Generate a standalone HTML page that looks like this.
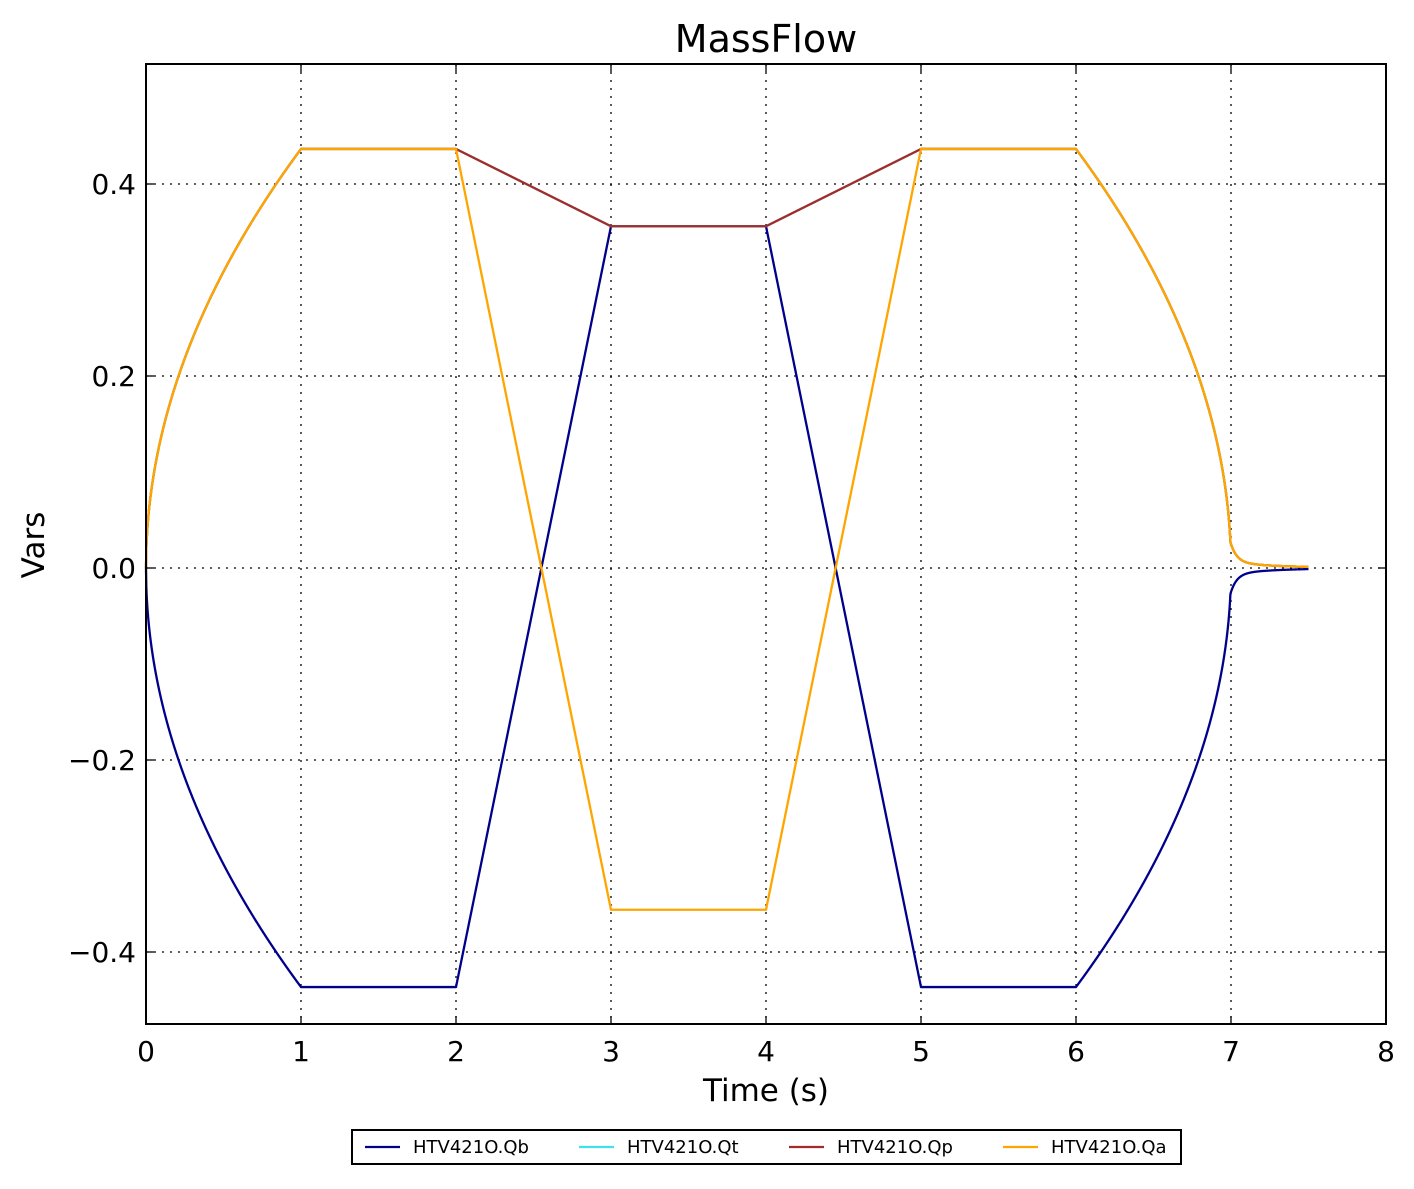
<!DOCTYPE html>
<html><head><meta charset="utf-8"><style>
body{margin:0;background:#fff;}
svg text{font-family:"DejaVu Sans","Liberation Sans",sans-serif;}
</style></head><body>
<svg id="s" width="1414" height="1184" xmlns="http://www.w3.org/2000/svg">
<rect width="1414" height="1184" fill="#fff"/>
<g id="grid" stroke="#000" stroke-width="1.3" stroke-dasharray="2,6"></g>
<g id="lines" fill="none" stroke-width="2.3" stroke-linejoin="round"></g>
<rect x="146" y="64" width="1240" height="960" fill="none" stroke="#000" stroke-width="2"/>
<g id="ticks" stroke="#000" stroke-width="1.3"></g>
<g id="labels" font-size="28" fill="#000"></g>
<text x="766" y="52" font-size="38" text-anchor="middle">MassFlow</text>
<text x="766" y="1101" font-size="31" text-anchor="middle">Time (s)</text>
<text transform="translate(44,545) rotate(-90)" font-size="31" text-anchor="middle">Vars</text>
<rect x="352" y="1130" width="829" height="34" fill="#fff" stroke="#000" stroke-width="2"/>
<g font-size="18">
<line x1="365" y1="1147" x2="400" y2="1147" stroke="#00008b" stroke-width="2.3"/><text x="413" y="1153">HTV421O.Qb</text>
<line x1="579" y1="1147" x2="614" y2="1147" stroke="#40e0f0" stroke-width="2.3"/><text x="627" y="1153">HTV421O.Qt</text>
<line x1="789" y1="1147" x2="824" y2="1147" stroke="#a52a2a" stroke-width="2.3"/><text x="837" y="1153">HTV421O.Qp</text>
<line x1="1003" y1="1147" x2="1038" y2="1147" stroke="#ffa500" stroke-width="2.3"/><text x="1051" y="1153">HTV421O.Qa</text>
</g>
</svg>
<script>
var X=t=>146+155*t, Y=v=>568-960*v;
var g=document.getElementById('grid'),tk=document.getElementById('ticks'),lb=document.getElementById('labels'),L=document.getElementById('lines');
var ns='http://www.w3.org/2000/svg';
function el(p,n,a,txt){var e=document.createElementNS(ns,n);for(var k in a)e.setAttribute(k,a[k]);if(txt!=null)e.textContent=txt;p.appendChild(e);return e;}
for(var i=0;i<=8;i++){var x=X(i);if(i>0&&i<8)el(g,'line',{x1:x,y1:64,x2:x,y2:1024});
el(tk,'line',{x1:x,y1:1024,x2:x,y2:1016});el(tk,'line',{x1:x,y1:64,x2:x,y2:72});
el(lb,'text',{x:x,y:1061,'text-anchor':'middle'},i);}
[-0.4,-0.2,0,0.2,0.4].forEach(v=>{var y=Y(v);el(g,'line',{x1:146,y1:y,x2:1386,y2:y});
el(tk,'line',{x1:146,y1:y,x2:154,y2:y});el(tk,'line',{x1:1386,y1:y,x2:1378,y2:y});
el(lb,'text',{x:136,y:y+10,'text-anchor':'end'},(v<0?'\u2212':'')+Math.abs(v).toFixed(1));});
var P=0.4365,M=0.356;
function base(t){if(t<=1)return P*Math.sqrt(t);if(t<=6)return P;if(t<=6.997)return Math.max(P*Math.sqrt(7-t),0.024);
return 0.019*Math.exp(-(t-7)/0.04)+0.006*Math.exp(-(t-7)/0.3);}
function lin(t,a,b,t0){return a+(b-a)*(t-t0);}
function qa(t){if(t>2&&t<3)return lin(t,P,-M,2);if(t>=3&&t<=4)return -M;if(t>4&&t<5)return lin(t,-M,P,4);return base(t);}
function qp(t){if(t>2&&t<3)return lin(t,P,M,2);if(t>=3&&t<=4)return M;if(t>4&&t<5)return lin(t,M,P,4);return base(t);}
function qb(t){if(t>2&&t<3)return lin(t,-P,M,2);if(t>=3&&t<=4)return M;if(t>4&&t<5)return lin(t,M,-P,4);return -base(t);}
var ts=[];for(var t=0;t<=7.5;t+=0.002)ts.push(+t.toFixed(4));[1,2,3,4,5,6].forEach(k=>ts.push(k));ts.sort((a,b)=>a-b);
function path(f,c){var d=ts.map((t,i)=>(i?'L':'M')+X(t).toFixed(2)+','+Y(f(t)).toFixed(2)).join('');el(L,'path',{d:d,stroke:c});}
path(qb,'#00008b');path(qp,'#40e0f0');path(qp,'#a52a2a');path(qa,'#ffa500');
</script>
</body></html>
